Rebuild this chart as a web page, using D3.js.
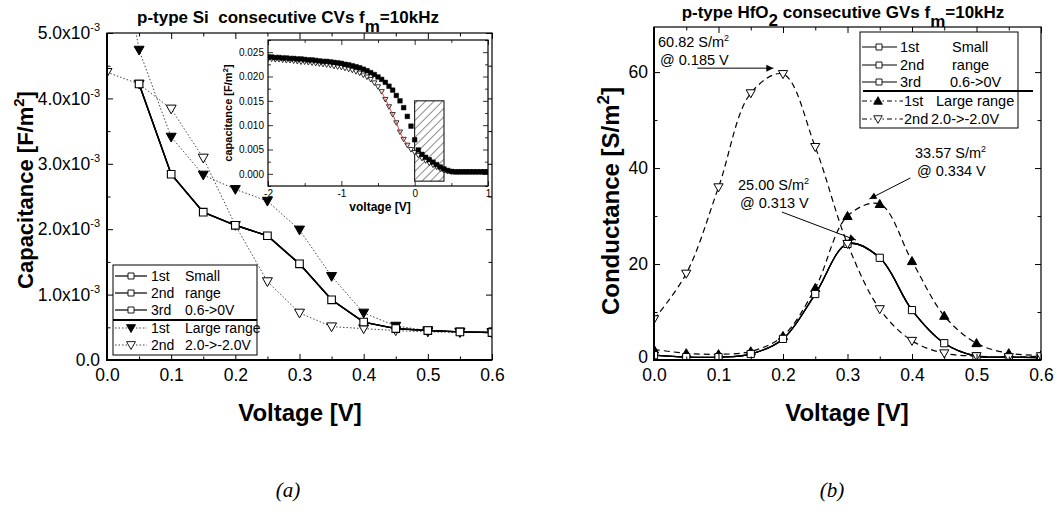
<!DOCTYPE html>
<html>
<head>
<meta charset="utf-8">
<script src="https://cdn.jsdelivr.net/npm/d3@7"></script>
<style>
  body { margin: 0; background: #fff; }
  text { font-family: "Liberation Sans", Arial, sans-serif; fill: #000; }
</style>
</head>
<body>
<script>
// ---------- data (a): p-type Si CVs, capacitance in F/m^2 ----------
const vSmall = [0.05, 0.10, 0.15, 0.20, 0.25, 0.30, 0.35, 0.40, 0.45, 0.50, 0.55, 0.60];
const capSmall1 = [4.22e-3, 2.84e-3, 2.26e-3, 2.06e-3, 1.90e-3, 1.47e-3, 0.92e-3, 0.58e-3, 0.48e-3, 0.45e-3, 0.43e-3, 0.42e-3];
const capSmall2 = [4.22e-3, 2.84e-3, 2.26e-3, 2.06e-3, 1.90e-3, 1.47e-3, 0.92e-3, 0.58e-3, 0.48e-3, 0.45e-3, 0.43e-3, 0.42e-3];
const capSmall3 = [4.22e-3, 2.84e-3, 2.26e-3, 2.06e-3, 1.90e-3, 1.47e-3, 0.92e-3, 0.58e-3, 0.48e-3, 0.45e-3, 0.43e-3, 0.42e-3];
const vLarge = [0.00, 0.05, 0.10, 0.15, 0.20, 0.25, 0.30, 0.35, 0.40, 0.45, 0.50, 0.55, 0.60];
const capLarge1 = [7.6e-3, 4.74e-3, 3.41e-3, 2.83e-3, 2.61e-3, 2.43e-3, 1.99e-3, 1.28e-3, 0.72e-3, 0.52e-3, 0.45e-3, 0.43e-3, 0.42e-3];
const capLarge2 = [4.40e-3, 4.22e-3, 3.84e-3, 3.09e-3, 2.06e-3, 1.20e-3, 0.72e-3, 0.51e-3, 0.48e-3, 0.45e-3, 0.43e-3, 0.42e-3, 0.42e-3];

// inset: full sweep -2 -> 1 V
const vInset = [-2.00, -1.95, -1.90, -1.85, -1.80, -1.75, -1.70, -1.65, -1.60, -1.55,
                -1.50, -1.45, -1.40, -1.35, -1.30, -1.25, -1.20, -1.15, -1.10, -1.05,
                -1.00, -0.95, -0.90, -0.85, -0.80, -0.75, -0.70, -0.65, -0.60, -0.55,
                -0.50, -0.45, -0.40, -0.35, -0.30, -0.25, -0.20, -0.15, -0.10, -0.05,
                 0.00,  0.05,  0.10,  0.15,  0.20,  0.25,  0.30,  0.35,  0.40,  0.45,
                 0.50,  0.55,  0.60,  0.65,  0.70,  0.75,  0.80,  0.85,  0.90,  0.95, 1.00];
const capInset1 = [0.0240, 0.0240, 0.0239, 0.0239, 0.0238, 0.0238, 0.0237, 0.0237, 0.0236, 0.0236,
                   0.0235, 0.0234, 0.0234, 0.0233, 0.0232, 0.0231, 0.0231, 0.0230, 0.0229, 0.0228,
                   0.0227, 0.0225, 0.0224, 0.0222, 0.0220, 0.0218, 0.0215, 0.0212, 0.0208, 0.0204,
                   0.0199, 0.0194, 0.0188, 0.0180, 0.0172, 0.0161, 0.0150, 0.0136, 0.0118, 0.0098,
                   0.0070, 0.0049, 0.0040, 0.0034, 0.0029, 0.0024, 0.0019, 0.0014, 0.0010, 0.0007,
                   0.0005, 0.0004, 0.0004, 0.0004, 0.0004, 0.0004, 0.0004, 0.0004, 0.0004, 0.0004, 0.0004];
const capInset2 = [0.0236, 0.0236, 0.0235, 0.0235, 0.0234, 0.0233, 0.0233, 0.0232, 0.0231, 0.0230,
                   0.0230, 0.0229, 0.0228, 0.0227, 0.0226, 0.0225, 0.0224, 0.0223, 0.0221, 0.0220,
                   0.0219, 0.0217, 0.0215, 0.0213, 0.0210, 0.0207, 0.0203, 0.0199, 0.0194, 0.0187,
                   0.0179, 0.0169, 0.0153, 0.0138, 0.0122, 0.0105, 0.0086, 0.0071, 0.0059, 0.0050,
                   0.0044, 0.0038, 0.0032, 0.0027, 0.0022, 0.0018, 0.0014, 0.0010, 0.0007, 0.0005,
                   0.0004, 0.0004, 0.0004, 0.0004, 0.0004, 0.0004, 0.0004, 0.0004, 0.0004, 0.0004, 0.0004];
const insetBox = [0.0, 0.4, -0.0015, 0.0150];   // hatched window: V from, V to, C from, C to
const insetRedSpan = [-0.45, -0.10];

// ---------- data (b): p-type HfO2 GVs, conductance in S/m^2 ----------
const vG = [0.00, 0.05, 0.10, 0.15, 0.20, 0.25, 0.30, 0.35, 0.40, 0.45, 0.50, 0.55, 0.60];
const gSmall1 = [1.0, 0.6, 0.6, 1.25, 4.4, 13.75, 24.2, 21.3, 10.4, 3.5, 0.8, 0.6, 0.5];
const gSmall2 = [1.0, 0.6, 0.6, 1.25, 4.4, 13.75, 24.2, 21.3, 10.4, 3.5, 0.8, 0.6, 0.5];
const gSmall3 = [1.0, 0.6, 0.6, 1.25, 4.4, 13.75, 24.2, 21.3, 10.4, 3.5, 0.8, 0.6, 0.5];
const gLarge1 = [2.2, 1.4, 1.2, 1.8, 5.0, 15.0, 30.0, 32.5, 20.6, 9.2, 3.5, 1.4, 1.0];
const gLarge2 = [8.5, 18.0, 36.0, 55.6, 59.6, 44.4, 24.2, 10.6, 4.0, 1.4, 0.8, 0.6, 0.8];
const peakG = [60.82, 33.57, 25.00];
const peakV = [0.185, 0.334, 0.313];

// legend text
const legendRun = ['1st', '2nd', '3rd', '1st', '2nd'];
const legendNote = ['Small', 'range', '0.6->0V', 'Large range', '2.0->-2.0V'];

// ---------- drawing ----------
const svg = d3.select('body').append('svg').attr('width', 1060).attr('height', 514);
const defs = svg.append('defs');

function clipRect(id, x0, y0, x1, y1) {
  defs.append('clipPath').attr('id', id).append('rect')
    .attr('x', x0).attr('y', y0).attr('width', x1 - x0).attr('height', y1 - y0);
}

const hatch = defs.append('pattern').attr('id', 'hatch')
  .attr('patternUnits', 'userSpaceOnUse').attr('width', 6).attr('height', 6)
  .attr('patternTransform', 'rotate(45)');
hatch.append('line').attr('x1', 0).attr('y1', 0).attr('x2', 0).attr('y2', 6)
  .attr('stroke', '#000').attr('stroke-width', 0.9);

defs.append('marker').attr('id', 'arrow').attr('viewBox', '0 0 10 10')
  .attr('refX', 10).attr('refY', 5).attr('markerWidth', 9).attr('markerHeight', 7)
  .attr('markerUnits', 'userSpaceOnUse').attr('orient', 'auto')
  .append('path').attr('d', 'M0,0L10,5L0,10Z').attr('fill', '#000');

const shapes = {
  square: s => `M${-s},${-s}H${s}V${s}H${-s}Z`,
  up: s => `M0,${-s}L${s},${s * 0.75}L${-s},${s * 0.75}Z`,
  down: s => `M0,${s}L${s},${-s * 0.75}L${-s},${-s * 0.75}Z`
};

function marks(g, xs, ys, x, y, shape, size, filled, sw) {
  g.selectAll(null).data(xs.map((v, i) => [v, ys[i]])).enter().append('path')
    .attr('transform', d => `translate(${x(d[0])},${y(d[1])})`)
    .attr('d', shapes[shape](size))
    .attr('fill', filled ? '#000' : '#fff')
    .attr('stroke', '#000').attr('stroke-width', sw || 1);
}

function curve(g, xs, ys, x, y, kind, dash, color, w) {
  const line = d3.line().x(d => x(d[0])).y(d => y(d[1]));
  if (kind) line.curve(kind);
  g.append('path').datum(xs.map((v, i) => [v, ys[i]]))
    .attr('d', line).attr('fill', 'none')
    .attr('stroke', color || '#000').attr('stroke-width', w || 1.2)
    .attr('stroke-dasharray', dash || null);
}

// inward ticks on all four sides, labels only bottom/left
function frame(g, x, y, o) {
  const [x0, x1] = x.range(), [y0, y1] = y.range();
  const side = (axis, tr, vals, size, fmt, pad) => {
    const a = g.append('g').attr('transform', tr)
      .call(axis.tickValues(vals).tickSize(size).tickPadding(pad || 3).tickFormat(fmt || ''));
    a.select('.domain').remove();
    a.selectAll('.tick line').attr('stroke-width', o.tw || 1);
    a.selectAll('text').attr('font-size', o.fs).attr('font-family', '"Liberation Sans", Arial, sans-serif');
    return a;
  };
  side(d3.axisBottom(x), `translate(0,${y0})`, o.xMinor, -o.minor);
  const bx = side(d3.axisBottom(x), `translate(0,${y0})`, o.xMajor, -o.major, o.xFmt, o.xPad);
  side(d3.axisTop(x), `translate(0,${y1})`, o.xMinor, -o.minor);
  side(d3.axisTop(x), `translate(0,${y1})`, o.xMajor, -o.major);
  side(d3.axisLeft(y), `translate(${x0},0)`, o.yMinor, -o.minor);
  const ly = side(d3.axisLeft(y), `translate(${x0},0)`, o.yMajor, -o.major, o.yFmt, o.yPad);
  side(d3.axisRight(y), `translate(${x1},0)`, o.yMinor, -o.minor);
  side(d3.axisRight(y), `translate(${x1},0)`, o.yMajor, -o.major);
  g.append('rect').attr('x', x0).attr('y', y1).attr('width', x1 - x0).attr('height', y0 - y1)
    .attr('fill', 'none').attr('stroke', '#000').attr('stroke-width', o.bw || 1.2);
  if (o.thick) {
    g.append('path').attr('d', `M${x0},${y1}V${y0}H${x1}`).attr('fill', 'none')
      .attr('stroke', '#000').attr('stroke-width', o.thick);
  }
  return { bx, ly };
}

function legend(g, L) {
  g.append('rect').attr('x', L.x).attr('y', L.y).attr('width', L.w).attr('height', L.h)
    .attr('fill', '#fff').attr('stroke', '#000').attr('stroke-width', 1);
  g.append('line').attr('x1', L.divX0).attr('x2', L.divX1).attr('y1', L.divY).attr('y2', L.divY)
    .attr('stroke', '#000').attr('stroke-width', 2.2);
  legendRun.forEach((run, i) => {
    const st = L.styles[i], ry = L.rows[i];
    g.append('line').attr('x1', st.lx0).attr('x2', st.lx1).attr('y1', ry).attr('y2', ry)
      .attr('stroke', st.color || '#000').attr('stroke-width', st.w || 1)
      .attr('stroke-dasharray', st.dash || null);
    g.append('path').attr('transform', `translate(${st.mx},${ry})`)
      .attr('d', shapes[st.shape](st.size)).attr('fill', st.filled ? '#000' : '#fff')
      .attr('stroke', '#000').attr('stroke-width', 0.9);
    g.append('text').attr('x', st.tx).attr('y', ry + 5).attr('font-size', L.fs).text(run);
    g.append('text').attr('x', L.noteX[i]).attr('y', ry + 5).attr('font-size', L.fs).text(legendNote[i]);
  });
}

// ================= (a) =================
const xA = d3.scaleLinear().domain([0, 0.6]).range([107, 492]);
const yA = d3.scaleLinear().domain([0, 5e-3]).range([360, 33]);
clipRect('clipA', 107, 33, 492, 360);
const gA = svg.append('g');

const plotA = gA.append('g').attr('clip-path', 'url(#clipA)');
curve(plotA, vLarge, capLarge1, xA, yA, null, '1.5,2', '#444', 1);
curve(plotA, vLarge, capLarge2, xA, yA, null, '1.5,2', '#444', 1);
curve(plotA, vSmall, capSmall1, xA, yA, null, null, '#000', 1.4);
curve(plotA, vSmall, capSmall2, xA, yA, null, null, '#000', 1.4);
curve(plotA, vSmall, capSmall3, xA, yA, null, null, '#000', 1.4);
marks(plotA, vLarge, capLarge2, xA, yA, 'down', 5, false, 1);
marks(plotA, vLarge, capLarge1, xA, yA, 'down', 5, true, 1);
marks(plotA, vSmall, capSmall1, xA, yA, 'square', 3.8, false, 1.1);

const fa = frame(gA, xA, yA, {
  xMajor: d3.range(0, 0.61, 0.1), xMinor: d3.range(0.05, 0.6, 0.1),
  yMajor: d3.range(0, 5.01e-3, 1e-3), yMinor: d3.range(0.5e-3, 5e-3, 1e-3),
  major: 6, minor: 3.5, fs: 17.5, xFmt: d3.format('.1f'), yFmt: d => d, xPad: 9, yPad: 7, thick: 2
});
fa.ly.selectAll('.tick text').each(function (d) {
  const t = d3.select(this).text(null);
  if (Math.abs(d) < 1e-9) { t.text('0.0'); return; }
  t.append('tspan').text((d * 1e3).toFixed(1) + 'x10');
  t.append('tspan').attr('dy', -8).attr('font-size', 11).text('-3');
});

legend(gA, {
  x: 113, y: 265, w: 144, h: 90, divY: 320, divX0: 113, divX1: 257, fs: 14,
  rows: [276, 293, 310, 328, 345],
  noteX: [185, 185, 185, 185, 185],
  styles: [
    { lx0: 115, lx1: 147, mx: 131, tx: 151, shape: 'square', size: 3, w: 1.2 },
    { lx0: 115, lx1: 147, mx: 131, tx: 151, shape: 'square', size: 3, w: 1.2 },
    { lx0: 115, lx1: 147, mx: 131, tx: 151, shape: 'square', size: 3, w: 1.2 },
    { lx0: 115, lx1: 147, mx: 131, tx: 151, shape: 'down', size: 4.5, filled: true, dash: '1.5,2', color: '#444' },
    { lx0: 115, lx1: 147, mx: 131, tx: 151, shape: 'down', size: 4.5, dash: '1.5,2', color: '#444' }
  ]
});

// inset
const xI = d3.scaleLinear().domain([-2, 1]).range([268, 488]);
const yI = d3.scaleLinear().domain([-0.0025, 0.0275]).range([186, 40]);
clipRect('clipI', 268, 40, 488, 186);
const gI = svg.append('g');
gI.append('rect').attr('x', 268).attr('y', 40).attr('width', 220).attr('height', 146).attr('fill', '#fff');
const plotI = gI.append('g').attr('clip-path', 'url(#clipI)');
plotI.append('rect')
  .attr('x', xI(insetBox[0])).attr('y', yI(insetBox[3]))
  .attr('width', xI(insetBox[1]) - xI(insetBox[0])).attr('height', yI(insetBox[2]) - yI(insetBox[3]))
  .attr('fill', 'url(#hatch)').attr('stroke', '#000').attr('stroke-width', 1);
marks(plotI, vInset, capInset2, xI, yI, 'down', 2.6, false, 0.8);
marks(plotI, vInset, capInset1, xI, yI, 'square', 2.3, true, 0.5);
const redIdx = vInset.map((v, i) => i).filter(i => vInset[i] >= insetRedSpan[0] - 1e-9 && vInset[i] <= insetRedSpan[1] + 1e-9);
curve(plotI, redIdx.map(i => vInset[i]), redIdx.map(i => capInset2[i]), xI, yI, d3.curveCatmullRom, null, '#e03030', 0.9);

frame(gI, xI, yI, {
  xMajor: [-2, -1, 0, 1], xMinor: [-1.5, -0.5, 0.5],
  yMajor: d3.range(0, 0.0251, 0.005), yMinor: d3.range(-0.0025, 0.0276, 0.005),
  major: 5, minor: 3, fs: 10, xFmt: d => String(d), yFmt: d3.format('.3f'), xPad: 4, yPad: 4, bw: 1.2, tw: 0.8
});
gI.append('text').attr('x', 380).attr('y', 211).attr('text-anchor', 'middle')
  .attr('font-size', 12).attr('font-weight', 'bold').text('voltage [V]');
const ilab = gI.append('text').attr('transform', 'translate(232,113) rotate(-90)')
  .attr('text-anchor', 'middle').attr('font-size', 11).attr('font-weight', 'bold');
ilab.append('tspan').text('capacitance [F/m');
ilab.append('tspan').attr('dy', -4).attr('font-size', 8).text('2');
ilab.append('tspan').attr('dy', 4).text(']');

// titles and axis labels (a)
const tA = gA.append('text').attr('x', 288).attr('y', 23).attr('text-anchor', 'middle')
  .attr('font-size', 17).attr('font-weight', 'bold');
tA.append('tspan').text('p-type Si\u00a0 consecutive CVs f');
tA.append('tspan').attr('dy', 9).text('m');
tA.append('tspan').attr('dy', -9).text('=10kHz');
gA.append('text').attr('x', 300).attr('y', 421).attr('text-anchor', 'middle')
  .attr('font-size', 24).attr('font-weight', 'bold').text('Voltage [V]');
const yLabA = gA.append('text').attr('transform', 'translate(33,190) rotate(-90)')
  .attr('text-anchor', 'middle').attr('font-size', 22).attr('font-weight', 'bold');
yLabA.append('tspan').text('Capacitance [F/m');
yLabA.append('tspan').attr('dy', -9).attr('font-size', 15).text('2');
yLabA.append('tspan').attr('dy', 9).text(']');
gA.append('text').attr('x', 288).attr('y', 497).attr('text-anchor', 'middle')
  .attr('font-style', 'italic').attr('font-size', 21)
  .style('font-family', '"Liberation Serif", serif').text('(a)');

// ================= (b) =================
const xB = d3.scaleLinear().domain([0, 0.6]).range([654, 1041]);
const yB = d3.scaleLinear().domain([0, 69.4]).range([360, 27]);
clipRect('clipB', 654, 27, 1041, 360);
const gB = svg.append('g');
const plotB = gB.append('g').attr('clip-path', 'url(#clipB)');
const spline = d3.curveCatmullRom.alpha(0.5);
curve(plotB, vG, gLarge2, xB, yB, spline, '6,4', '#000', 1.2);
curve(plotB, vG, gLarge1, xB, yB, spline, '6,4', '#000', 1.2);
curve(plotB, vG, gSmall1, xB, yB, spline, null, '#000', 1.3);
curve(plotB, vG, gSmall2, xB, yB, spline, null, '#000', 1.3);
curve(plotB, vG, gSmall3, xB, yB, spline, null, '#000', 1.3);
marks(plotB, vG, gLarge1, xB, yB, 'up', 4.6, true, 1);
marks(plotB, vG, gSmall1, xB, yB, 'square', 3.6, false, 1);
marks(plotB, vG, gLarge2, xB, yB, 'down', 4.6, false, 1);

const fb = frame(gB, xB, yB, {
  xMajor: d3.range(0, 0.61, 0.1), xMinor: d3.range(0.05, 0.6, 0.1),
  yMajor: [0, 20, 40, 60], yMinor: [10, 30, 50],
  major: 6, minor: 3.5, fs: 17.5, xFmt: d3.format('.1f'), yFmt: d => String(d), xPad: 9, yPad: 6, thick: 2
});
fb.ly.selectAll('.tick text').filter(d => d === 0).attr('y', -3);

legend(gB, {
  x: 860, y: 32, w: 158, h: 96, divY: 91, divX0: 863, divX1: 1033, fs: 14.5,
  rows: [47, 65, 82, 101, 119],
  noteX: [952, 952, 950, 936, 931],
  styles: [
    { lx0: 862, lx1: 897, mx: 879, tx: 900, shape: 'square', size: 3, w: 1.2 },
    { lx0: 862, lx1: 897, mx: 879, tx: 900, shape: 'square', size: 3, w: 1.2 },
    { lx0: 862, lx1: 897, mx: 879, tx: 900, shape: 'square', size: 3, w: 1.2 },
    { lx0: 862, lx1: 903, mx: 878, tx: 904, shape: 'up', size: 4.3, filled: true, dash: '5,3,1.5,3' },
    { lx0: 862, lx1: 903, mx: 878, tx: 904, shape: 'down', size: 4.3, dash: '5,3,1.5,3' }
  ]
});

// peak annotations: [text x, first-line baseline, arrow tail dx, dy]
const noteLayout = [[658, 47, -76, 0], [915, 158, 41, -21], [738, 190, -74, -28]];
peakG.forEach((g, i) => {
  const [tx, ty, dx, dy] = noteLayout[i];
  const px = xB(peakV[i]), py = yB(g);
  const t1 = gB.append('text').attr('x', tx).attr('y', ty).attr('font-size', 14.5);
  t1.append('tspan').text(g.toFixed(2) + ' S/m');
  t1.append('tspan').attr('dy', -6).attr('font-size', 9).text('2');
  gB.append('text').attr('x', tx + 2).attr('y', ty + 18).attr('font-size', 14.5)
    .text('@ ' + peakV[i].toFixed(3) + ' V');
  gB.append('line').attr('x1', px + dx).attr('y1', py + dy).attr('x2', px).attr('y2', py)
    .attr('stroke', '#000').attr('stroke-width', 1).attr('marker-end', 'url(#arrow)');
});

const tB = gB.append('text').attr('x', 843).attr('y', 18).attr('text-anchor', 'middle')
  .attr('font-size', 17).attr('font-weight', 'bold');
tB.append('tspan').text('p-type HfO');
tB.append('tspan').attr('dy', 8).text('2');
tB.append('tspan').attr('dy', -8).text(' consecutive GVs f');
tB.append('tspan').attr('dy', 9).text('m');
tB.append('tspan').attr('dy', -9).text('=10kHz');
gB.append('text').attr('x', 847).attr('y', 421).attr('text-anchor', 'middle')
  .attr('font-size', 24).attr('font-weight', 'bold').text('Voltage [V]');
const yLabB = gB.append('text').attr('transform', 'translate(619,201) rotate(-90)')
  .attr('text-anchor', 'middle').attr('font-size', 24).attr('font-weight', 'bold');
yLabB.append('tspan').text('Conductance [S/m');
yLabB.append('tspan').attr('dy', -10).attr('font-size', 17).text('2');
yLabB.append('tspan').attr('dy', 10).text(']');
gB.append('text').attr('x', 832).attr('y', 497).attr('text-anchor', 'middle')
  .attr('font-style', 'italic').attr('font-size', 21)
  .style('font-family', '"Liberation Serif", serif').text('(b)');
</script>
</body>
</html>
